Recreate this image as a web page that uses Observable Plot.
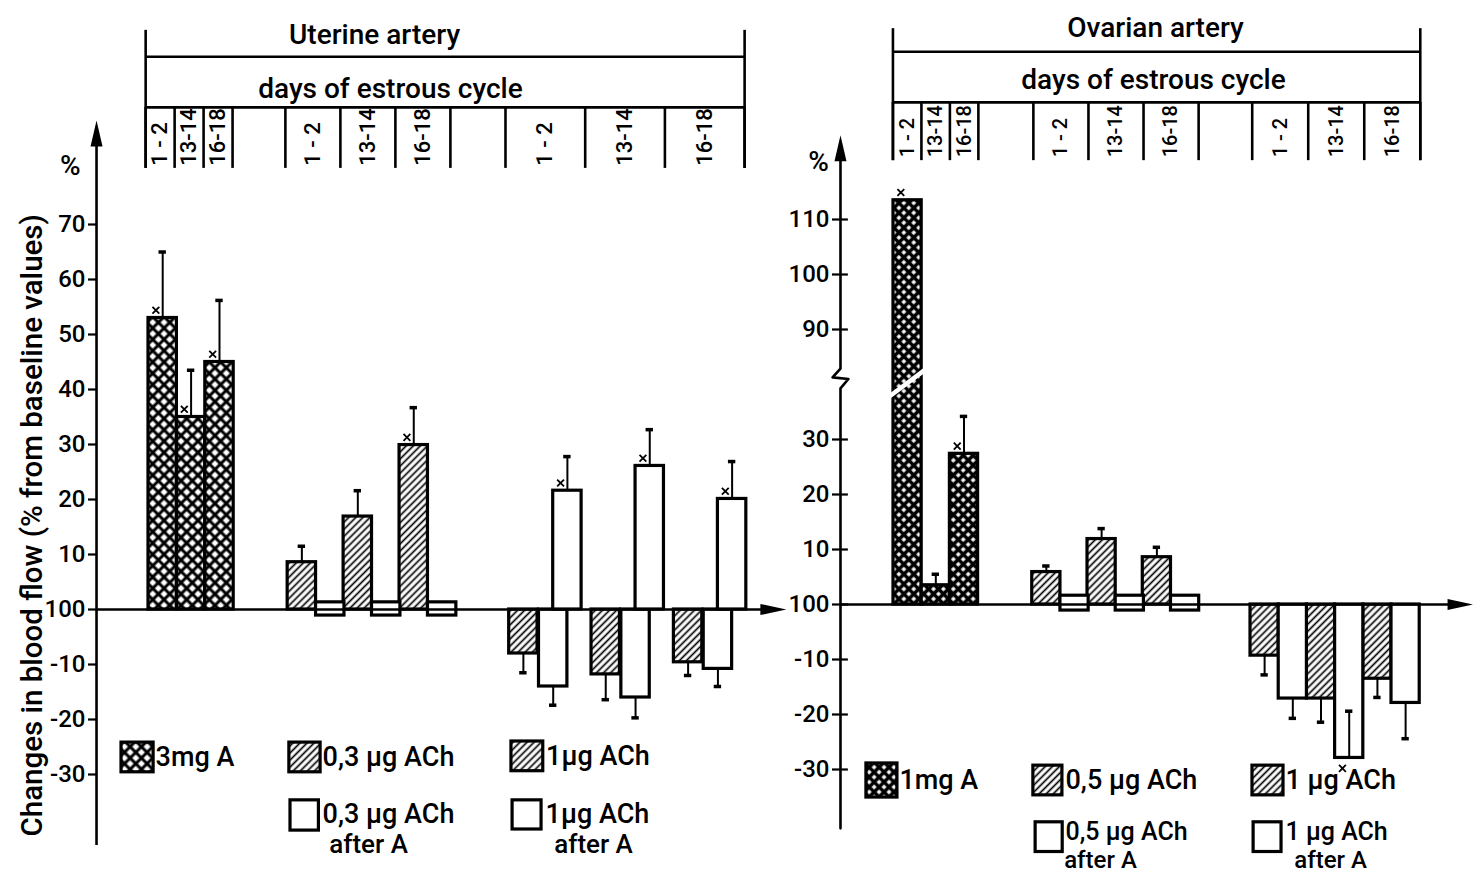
<!DOCTYPE html>
<html><head><meta charset="utf-8">
<script src="https://cdn.jsdelivr.net/npm/d3@7"></script>
<script src="https://cdn.jsdelivr.net/npm/@observablehq/plot@0.6"></script>
<style>
body{margin:0;background:#fff;}
#wrap{position:relative;width:1473px;height:877px;overflow:hidden;background:#fff;}
#wrap svg{position:absolute;top:0;overflow:visible;}
</style></head><body><div id="wrap"></div>
<script>
// ---------------- DATA ----------------
const days = ["1-2", "13-14", "16-18"];
const dayLabels = ["1 - 2", "13-14", "16-18"];

// Uterine artery (% change from baseline; 0 is labelled "100")
const uterineA3mg = [53, 35, 45];
const uterineA3mgErr = [65, 43.5, 56.2];
const uterineA3mgSig = [true, true, true];
const uterineACh03 = [8.6, 16.9, 29.9];
const uterineACh03Err = [11.5, 21.6, 36.7];
const uterineACh03Sig = [false, false, true];
const uterineACh03AfterALow = [-1.1, -1.1, -1.1];
const uterineACh03AfterAHigh = [1.3, 1.3, 1.3];
const uterineACh1 = [-8, -11.8, -9.6];
const uterineACh1Err = [-11.5, -16.4, -12];
const uterineACh1AfterA = [-14, -16, -10.8];
const uterineACh1AfterAErr = [-17.4, -19.7, -14];
const uterineACh1AfterARise = [21.6, 26.1, 20.1];
const uterineACh1AfterARiseErr = [27.8, 32.7, 26.9];
const uterineACh1AfterARiseSig = [true, true, true];

// Ovarian artery
const ovarianA1mg = [113.5, 3.5, 27.4];
const ovarianA1mgErr = [null, 5.5, 34.2];
const ovarianA1mgSig = [true, false, true];
const ovarianACh05 = [5.9, 11.9, 8.6];
const ovarianACh05Err = [7, 13.8, 10.4];
const ovarianACh05AfterALow = [-1.1, -1.1, -1.1];
const ovarianACh05AfterAHigh = [1.6, 1.6, 1.6];
const ovarianACh1 = [-9.3, -17.1, -13.5];
const ovarianACh1Err = [-12.8, -21.4, -16.9];
const ovarianACh1AfterA = [-17.1, -27.9, -17.9];
const ovarianACh1AfterAErr = [-20.7, -19.4, -24.4];
const ovarianACh1AfterASig = [false, true, false];

// tick labels
const uterineTicks = [-30, -20, -10, 0, 10, 20, 30, 40, 50, 60, 70];
const ovarianTicks = [-30, -20, -10, 0, 10, 20, 30, 90, 100, 110];
const zeroLabel = "100";

// text
const uterineTitle = "Uterine artery";
const ovarianTitle = "Ovarian artery";
const headerSub = "days of estrous cycle";
const yLabel = "Changes in blood flow (% from baseline values)";
const uterineLegendLabels = ["3mg A", "0,3 µg ACh", "1µg ACh", "0,3 µg ACh", "1µg ACh"];
const ovarianLegendLabels = ["1mg A", "0,5 µg ACh", "1 µg ACh", "0,5 µg ACh", "1 µg ACh"];
const afterLabel = "after A";

// ---------------- LAYOUT / STYLE ----------------
const FONT = "Roboto, 'Noto Sans', 'DejaVu Sans', sans-serif";
const LW = 2.6;

const arrowUp = {draw(ctx, size) {const r = Math.sqrt(size / Math.PI); ctx.moveTo(0, 0); ctx.lineTo(-0.6 * r, 2.6 * r); ctx.lineTo(0.6 * r, 2.6 * r); ctx.closePath();}};
const arrowRight = {draw(ctx, size) {const r = Math.sqrt(size / Math.PI); ctx.moveTo(0, 0); ctx.lineTo(-2.6 * r, -0.55 * r); ctx.lineTo(-2.6 * r, 0.55 * r); ctx.closePath();}};

const brkOvarian = v => (v > 60 ? v - 40 : v);      // broken axis: 90..110 drawn just above 30
const unbrkOvarian = u => (u > 45 ? u + 40 : u);

function valueBar(x, v, err, sig, kind, tf = v => v) {
  const t = tf(v);
  return {x1: x, x2: x + 1, y1: Math.min(0, t), y2: Math.max(0, t), tip: t, from: t, to: err == null ? null : tf(err), sig, kind};
}
function boxBar(x, lo, hi, kind) {
  return {x1: x, x2: x + 1, y1: lo, y2: hi, tip: hi, from: null, to: null, sig: false, kind};
}

const uterineLayout = {
  left: 0, width: 790, x0: 148, slot: 28.4, zero: 609, unit: 5.5, axisPx: 96,
  axisSlot: -1.83, tipSlot: 22.46, yTop: 88.9, yBottom: -42.9,
  g1: {start: 0, pitch: 1}, g2: {start: 4.9, pitch: 1.97, open: 1}, g3: {start: 12.7, pitch: 2.9, open: 1.05, rise: 1.55},
  cols: [[-0.1, 2.96], [4.82, 10.63], [12.57, 20.99]],
  headTop: 105.3, headBottom: 80.2, headH: [100.5, 91.3], colLabelY: 80.7, colFont: 22,
  title: {x: 7.96, y: 104.4}, sub: {x: 8.52, y: 94.7}, pct: {x: -2.75, y: 80.7}, ylab: {x: -4.08, y: 15.3},
  afterFont: 26,
  legend: [
    {x1: -0.95, x2: 0.18, y1: -29.6, y2: -24.2, kind: "cross", tx: 0.25, ty: -26.9},
    {x1: 4.96, x2: 6.06, y1: -29.6, y2: -24.2, kind: "hatch", tx: 6.13, ty: -26.9},
    {x1: 12.78, x2: 13.9, y1: -29.4, y2: -24.0, kind: "hatch", tx: 14.0, ty: -26.7},
    {x1: 5.0, x2: 6.0, y1: -40.2, y2: -34.7, kind: "open", tx: 6.13, ty: -37.3, ax: 7.75, ay: -42.7},
    {x1: 12.82, x2: 13.84, y1: -40.0, y2: -34.7, kind: "open", tx: 13.98, ty: -37.3, ax: 15.67, ay: -42.7}
  ]
};

const ovarianLayout = {
  left: 790, width: 683, x0: 893, slot: 28.2, zero: 604, unit: 5.5, axisPx: 840,
  axisSlot: -1.88, tipSlot: 20.57, yTop: 85.3, yBottom: -40.7,
  g1: {start: 0, pitch: 1}, g2: {start: 4.92, pitch: 1.96, open: 1}, g3: {start: 12.66, pitch: 2, open: 1},
  cols: [[-0.02, 3.01], [4.96, 10.82], [12.72, 18.68]],
  headTop: 104.7, headBottom: 80.7, headH: [100.5, 91.3], colLabelY: 81.3, colFont: 20,
  title: {x: 9.29, y: 104.9}, sub: {x: 9.22, y: 95.3}, pct: {x: -2.66, y: 80.4}, ylab: null,
  afterFont: 24,
  legend: [
    {x1: -0.96, x2: 0.14, y1: -35.1, y2: -28.9, kind: "cross", tx: 0.21, ty: -32},
    {x1: 4.96, x2: 5.99, y1: -34.7, y2: -29.3, kind: "hatch", tx: 6.1, ty: -32},
    {x1: 12.73, x2: 13.83, y1: -34.7, y2: -29.3, kind: "hatch", tx: 13.9, ty: -32},
    {x1: 5.04, x2: 6.0, y1: -45.0, y2: -39.6, kind: "open", tx: 6.1, ty: -41.4, ax: 7.34, ay: -46.5},
    {x1: 12.77, x2: 13.76, y1: -45.0, y2: -39.6, kind: "open", tx: 13.9, ty: -41.4, ax: 15.5, ay: -46.5}
  ]
};

// ---------------- BAR TABLES ----------------
const uterineBars = [];
days.forEach((d, i) => {
  const L = uterineLayout;
  uterineBars.push(valueBar(L.g1.start + i * L.g1.pitch, uterineA3mg[i], uterineA3mgErr[i], uterineA3mgSig[i], "cross"));
  const h2 = L.g2.start + i * L.g2.pitch;
  uterineBars.push(valueBar(h2, uterineACh03[i], uterineACh03Err[i], uterineACh03Sig[i], "hatch"));
  uterineBars.push(boxBar(h2 + L.g2.open, uterineACh03AfterALow[i], uterineACh03AfterAHigh[i], "open"));
  const h3 = L.g3.start + i * L.g3.pitch;
  uterineBars.push(valueBar(h3, uterineACh1[i], uterineACh1Err[i], false, "hatch"));
  uterineBars.push(valueBar(h3 + L.g3.open, uterineACh1AfterA[i], uterineACh1AfterAErr[i], false, "open"));
  uterineBars.push(valueBar(h3 + L.g3.rise, uterineACh1AfterARise[i], uterineACh1AfterARiseErr[i], uterineACh1AfterARiseSig[i], "open"));
});

const ovarianBars = [];
days.forEach((d, i) => {
  const L = ovarianLayout;
  ovarianBars.push(valueBar(L.g1.start + i * L.g1.pitch, ovarianA1mg[i], ovarianA1mgErr[i], ovarianA1mgSig[i], "cross", brkOvarian));
  const h2 = L.g2.start + i * L.g2.pitch;
  ovarianBars.push(valueBar(h2, ovarianACh05[i], ovarianACh05Err[i], false, "hatch"));
  ovarianBars.push(boxBar(h2 + L.g2.open, ovarianACh05AfterALow[i], ovarianACh05AfterAHigh[i], "open"));
  const h3 = L.g3.start + i * L.g3.pitch;
  ovarianBars.push(valueBar(h3, ovarianACh1[i], ovarianACh1Err[i], false, "hatch"));
  ovarianBars.push(valueBar(h3 + L.g3.open, ovarianACh1AfterA[i], ovarianACh1AfterAErr[i], ovarianACh1AfterASig[i], "open"));
});

// ---------------- PANEL BUILDER ----------------
function panel(L, bars, opts) {
  const id = opts.id;
  const fills = {cross: `url(#cross-${id})`, hatch: `url(#hatch-${id})`, open: "white"};
  const cols = [];
  L.cols.forEach(([a, b]) => {
    const w = (b - a) / 3;
    dayLabels.forEach((d, i) => cols.push({a: a + i * w, b: a + (i + 1) * w, label: d}));
  });
  const seps = [];
  L.cols.forEach(([a, b]) => { const w = (b - a) / 3; for (let i = 0; i <= 3; i++) seps.push(a + i * w); });
  const errs = bars.filter(d => d.to != null);
  const sigs = bars.filter(d => d.sig);
  const kinds = ["cross", "hatch", "open"];
  const marks = [];
  // header
  marks.push(Plot.ruleX([L.cols[0][0], L.cols[2][1]], {y1: L.headBottom, y2: L.headTop, strokeWidth: LW}));
  marks.push(Plot.ruleY(L.headH, {x1: L.cols[0][0], x2: L.cols[2][1], strokeWidth: LW}));
  marks.push(Plot.ruleX(seps, {y1: L.headBottom, y2: L.headH[1], strokeWidth: LW}));
  marks.push(Plot.text(cols, {x: d => (d.a + d.b) / 2, y: L.colLabelY, text: "label", rotate: -90, textAnchor: "start", fontSize: L.colFont}));
  marks.push(Plot.text([opts.title], {x: L.title.x, y: L.title.y, text: d => d, fontSize: 28}));
  marks.push(Plot.text([headerSub], {x: L.sub.x, y: L.sub.y, text: d => d, fontSize: 28}));
  marks.push(Plot.text(["%"], {x: L.pct.x, y: L.pct.y, text: d => d, fontSize: 28}));
  if (L.ylab) marks.push(Plot.text([yLabel], {x: L.ylab.x, y: L.ylab.y, text: d => d, rotate: -90, fontSize: 29.5}));
  // bars
  kinds.forEach(k => marks.push(Plot.rect(bars.filter(d => d.kind === k), {x1: "x1", x2: "x2", y1: "y1", y2: "y2", fill: fills[k], stroke: "black", strokeWidth: 3.2})));
  // optional axis-break slash over the tall bar
  if (opts.slash) marks.push(Plot.line(opts.slash, {x: "x", y: "y", stroke: "white", strokeWidth: 4.5}));
  // error bars
  marks.push(Plot.ruleX(errs, {x: d => (d.x1 + d.x2) / 2, y1: "from", y2: "to", strokeWidth: 2}));
  marks.push(Plot.ruleY(errs, {y: "to", x1: d => (d.x1 + d.x2) / 2 - 0.13, x2: d => (d.x1 + d.x2) / 2 + 0.13, strokeWidth: 3.5}));
  // significance crosses
  marks.push(Plot.dot(sigs, {x: d => d.x1 + 0.26, y: d => d.tip + (d.tip > 0 ? 1.4 : -1.9), symbol: "times", r: 3.2, stroke: "black", strokeWidth: 1.8}));
  // axes
  if (opts.axisLine) marks.push(Plot.line(opts.axisLine, {x: "x", y: "y", strokeWidth: LW}));
  else marks.push(Plot.ruleX([L.axisSlot], {y1: L.yBottom, y2: L.yTop - 3, strokeWidth: LW}));
  marks.push(Plot.dot([L.axisSlot], {x: d => d, y: L.yTop, symbol: arrowUp, r: 10, fill: "black", stroke: null}));
  marks.push(Plot.ruleY([0], {x1: L.axisSlot, x2: L.tipSlot - 0.5, strokeWidth: LW}));
  marks.push(Plot.dot([0], {x: L.tipSlot, y: d => d, symbol: arrowRight, r: 10, fill: "black", stroke: null}));
  marks.push(Plot.axisY(opts.ticks, {anchor: "left", tickSize: 8, tickPadding: 3, tickFormat: opts.tickFormat, fontSize: 24, strokeWidth: 2.2, label: null}));
  if (opts.tickRight) marks.push(Plot.ruleY(opts.ticks, {y: d => d, x1: L.axisSlot, x2: L.axisSlot + 0.28, strokeWidth: 2.2}));
  // legend
  kinds.forEach(k => marks.push(Plot.rect(L.legend.filter(d => d.kind === k), {x1: "x1", x2: "x2", y1: "y1", y2: "y2", fill: fills[k], stroke: "black", strokeWidth: 3.2})));
  const leg = L.legend.map((d, i) => ({...d, label: opts.legendLabels[i]}));
  marks.push(Plot.text(leg.filter(d => d.ax == null), {x: "tx", y: "ty", text: "label", textAnchor: "start", fontSize: 27}));
  marks.push(Plot.text(leg.filter(d => d.ax != null), {x: "tx", y: "ty", text: "label", textAnchor: "start", fontSize: L.afterFont + 1}));
  marks.push(Plot.text(leg.filter(d => d.ax != null), {x: "ax", y: "ay", text: () => afterLabel, fontSize: L.afterFont}));

  const svg = Plot.plot({
    width: L.width, height: 877,
    marginLeft: L.axisPx - L.left, marginRight: 0, marginTop: 0, marginBottom: 0,
    x: {type: "linear", domain: [0, 1], range: [L.x0 - L.left, L.x0 - L.left + L.slot], axis: null},
    y: {type: "linear", domain: [0, 10], range: [L.zero, L.zero - 10 * L.unit], axis: null},
    style: {fontFamily: FONT, fontWeight: 500, background: "transparent", overflow: "visible", color: "black"},
    marks
  });
  d3.select(svg).insert("defs", ":first-child").html(
    `<pattern id="cross-${id}" patternUnits="userSpaceOnUse" width="${opts.crossSize}" height="${opts.crossSize}" patternTransform="rotate(45)">` +
    `<rect width="${opts.crossSize}" height="${opts.crossSize}" fill="white"/>` +
    `<path d="M${opts.crossSize / 2} 0V${opts.crossSize}M0 ${opts.crossSize / 2}H${opts.crossSize}" stroke="black" stroke-width="${opts.crossWidth}"/></pattern>` +
    `<pattern id="hatch-${id}" patternUnits="userSpaceOnUse" width="5" height="5" patternTransform="rotate(45)">` +
    `<rect width="5" height="5" fill="white"/><path d="M2.5 0V5" stroke="black" stroke-width="1.7"/></pattern>`
  );
  svg.style.left = L.left + "px";
  return svg;
}

const wrap = document.getElementById("wrap");
wrap.appendChild(panel(uterineLayout, uterineBars, {
  id: "ut", title: uterineTitle, ticks: uterineTicks,
  tickFormat: d => (d === 0 ? zeroLabel : String(d)),
  legendLabels: uterineLegendLabels, crossSize: 8, crossWidth: 3
}));
const oL = ovarianLayout;
wrap.appendChild(panel(oL, ovarianBars, {
  id: "ov", title: ovarianTitle, ticks: ovarianTicks.map(brkOvarian),
  tickFormat: d => (d === 0 ? zeroLabel : String(unbrkOvarian(d))),
  legendLabels: ovarianLegendLabels, crossSize: 7, crossWidth: 3.6, tickRight: true,
  slash: [{x: -0.1, y: 38}, {x: 1.15, y: 42.8}],
  axisLine: [
    {x: oL.axisSlot, y: oL.yBottom}, {x: oL.axisSlot, y: 39.3}, {x: oL.axisSlot + 0.28, y: 41.0},
    {x: oL.axisSlot - 0.28, y: 41.3}, {x: oL.axisSlot, y: 42.9}, {x: oL.axisSlot, y: oL.yTop - 3}
  ]
}));
</script></body></html>
